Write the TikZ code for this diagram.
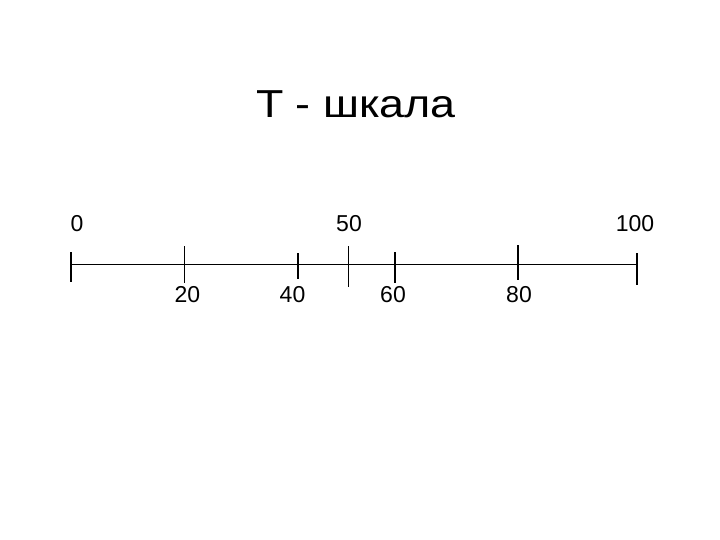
\documentclass[tikz,border=0pt]{standalone}
\usepackage{graphicx}
\usepackage{fontspec}
\setmainfont{Liberation Sans}
\begin{document}
\begin{tikzpicture}[x=1pt,y=-1pt,
  lbl/.style={anchor=base,inner sep=0pt,font=\fontsize{23}{26}\selectfont},
  tick/.style={line width=1.4pt},
  axis/.style={line width=1.4pt}]
\useasboundingbox (0,0) rectangle (720,540);
\node[anchor=base,inner sep=0pt,font=\fontsize{39}{44}\selectfont] (title) at (356,118) {\scalebox{1.15}[1]{Т - шкала}};
\coordinate (L) at (71,264.5);
\coordinate (R) at (637,264.5);
\draw[axis] (L) -- (R);
\coordinate (t0a) at (71,252); \coordinate (t0b) at (71,282);
\coordinate (t20a) at (184.5,246); \coordinate (t20b) at (184.5,283);
\coordinate (t40a) at (298,253); \coordinate (t40b) at (298,279);
\coordinate (t50a) at (348.5,246); \coordinate (t50b) at (348.5,287);
\coordinate (t60a) at (395,252); \coordinate (t60b) at (395,283);
\coordinate (t80a) at (518,245); \coordinate (t80b) at (518,280);
\coordinate (t100a) at (637,253); \coordinate (t100b) at (637,285);
\foreach \t in {0,20,40,50,60,80,100} {\draw[tick] (t\t a) -- (t\t b);}
\node[lbl] (l0) at (77,232) {0};
\node[lbl] (l50) at (349,232) {50};
\node[lbl] (l100) at (635,232) {100};
\node[lbl] (l20) at (187.5,302) {20};
\node[lbl] (l40) at (292.5,302) {40};
\node[lbl] (l60) at (393,302) {60};
\node[lbl] (l80) at (519,302) {80};
\end{tikzpicture}
\end{document}
